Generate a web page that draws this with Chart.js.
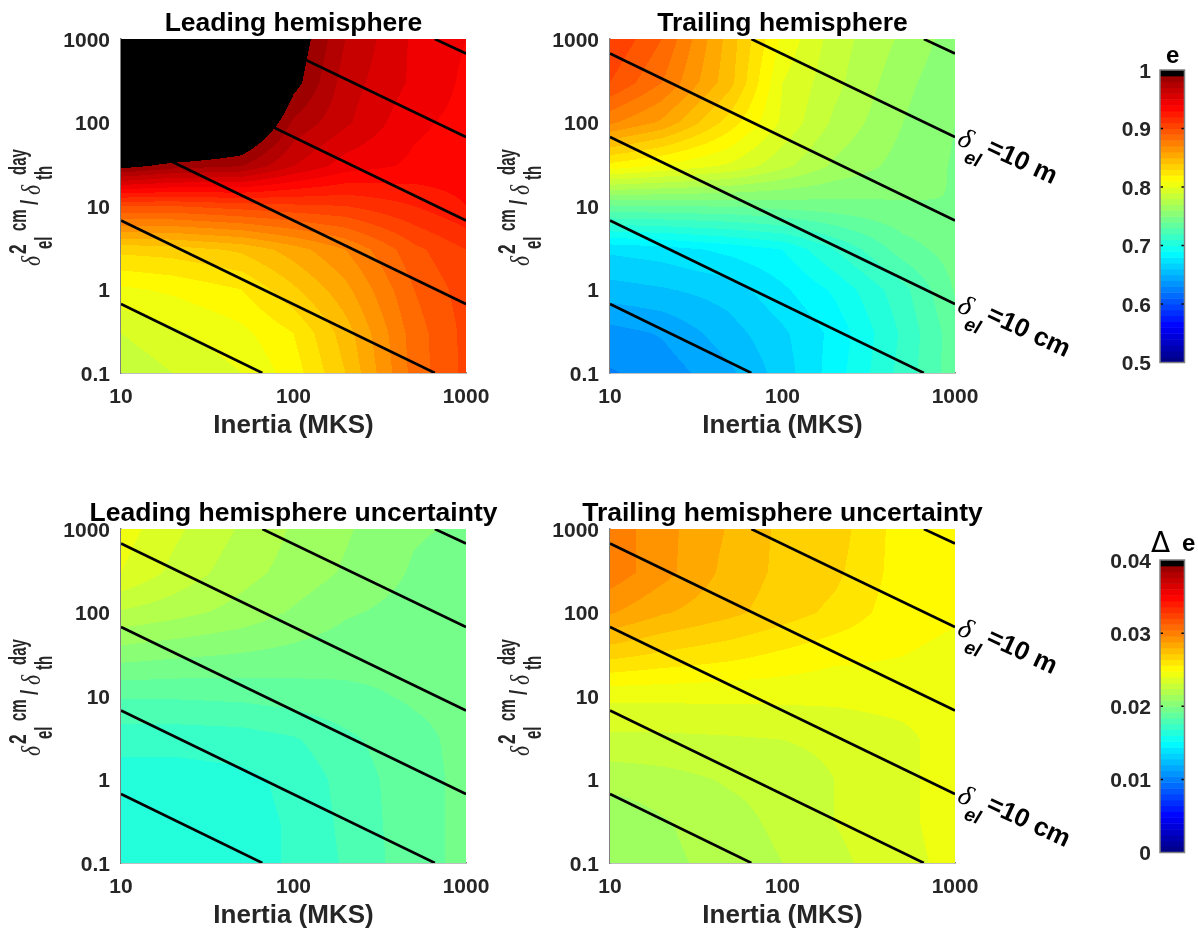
<!DOCTYPE html>
<html>
<head>
<meta charset="utf-8">
<title>Emissivity maps</title>
<script src="https://cdn.jsdelivr.net/npm/chart.js@4"></script>
<style>
  body { margin: 0; background: #fff; }
  canvas { position: absolute; filter: blur(0.4px); }
</style>
</head>
<body>
<script>
// grid the contour maps were read on
const inertia = [10, 20, 50, 100, 200, 500, 1000];
const ratio = [0.1, 0.3, 1, 3, 10, 30, 100, 300, 1000];

// one row per ratio value, bottom row first
const leadE = [
  [.782, .790, .800, .815, .840, .884, .903],
  [.790, .798, .807, .820, .845, .885, .903],
  [.808, .812, .820, .838, .857, .890, .905],
  [.833, .835, .842, .855, .870, .897, .910],
  [.900, .900, .905, .908, .910, .920, .930],
  [.995, .985, .980, .960, .945, .938, .936],
  [1.05, 1.05, 1.02, .978, .962, .942, .937],
  [1.05, 1.05, 1.05, .995, .965, .948, .938],
  [1.05, 1.05, 1.05, 1.00, .970, .948, .940]
];
const trailE = [
  [.629, .634, .648, .665, .685, .714, .736],
  [.636, .641, .656, .668, .683, .712, .736],
  [.656, .659, .665, .678, .692, .717, .741],
  [.672, .675, .683, .690, .710, .735, .745],
  [.739, .740, .741, .744, .746, .749, .750],
  [.816, .808, .798, .783, .768, .756, .749],
  [.872, .858, .825, .798, .778, .760, .750],
  [.900, .880, .843, .800, .783, .763, .752],
  [.910, .890, .845, .808, .785, .768, .755]
];
const leadDe = [
  [.0163, .0164, .0165, .0169, .0177, .0189, .0194],
  [.0163, .0164, .0165, .0169, .0178, .0189, .0194],
  [.0164, .0164, .0166, .0170, .0179, .0189, .0194],
  [.0171, .0171, .0172, .0175, .0182, .0190, .0194],
  [.0185, .0185, .0186, .0188, .0190, .0193, .0194],
  [.0203, .0201, .0199, .0197, .0195, .0194, .0194],
  [.0223, .0219, .0213, .0207, .0201, .0197, .0194],
  [.0240, .0230, .0219, .0213, .0207, .0199, .0195],
  [.0244, .0234, .0223, .0215, .0209, .0201, .0199]
];
const trailDe = [
  [.0212, .0214, .0219, .0224, .0230, .0237, .0243],
  [.0209, .0215, .0221, .0226, .0232, .0238, .0244],
  [.0219, .0221, .0225, .0227, .0232, .0238, .0244],
  [.0230, .0230, .0231, .0232, .0234, .0238, .0244],
  [.0242, .0242, .0242, .0242, .0242, .0243, .0244],
  [.0266, .0262, .0258, .0254, .0250, .0248, .0246],
  [.0289, .0281, .0274, .0268, .0262, .0251, .0249],
  [.0301, .0291, .0277, .0270, .0266, .0252, .0250],
  [.0301, .0291, .0279, .0270, .0268, .0252, .0250]
];

// constant electrical skin depth lines, end points
const isoX = [[10, 66], [10, 660], [10, 1000], [10, 1000], [66, 1000], [660, 1000]];
const isoY = [[0.67, 0.1], [6.7, 0.1], [67, 0.67], [670, 6.7], [1000, 67], [1000, 670]];

const axisTicks = [0.1, 1, 10, 100, 1000];
const xTicks = [10, 100, 1000];
const eTicks = [0.5, 0.6, 0.7, 0.8, 0.9, 1];
const deTicks = [0, 0.01, 0.02, 0.03, 0.04];

const SANS = '"Liberation Sans", Arial, sans-serif';
const SERIF = '"Liberation Serif", "DejaVu Serif", serif';
const TEXT = '#262626';
const BANDS = 50;

function jet(t) {
  const ramp = c => Math.round(255 * Math.max(0, Math.min(1, 1.5 - Math.abs(4 * t - c))));
  return `rgb(${ramp(3)},${ramp(2)},${ramp(1)})`;
}

// filled contour colour for a value, top band is black like the colorbar
function bandColor(v, min, max) {
  const idx = Math.floor((v - min) / (max - min) * BANDS);
  if (idx >= BANDS - 1) return '#000';
  return jet((Math.max(idx, 0) + 0.5) / BANDS);
}

function segment(list, v) {
  let i = 0;
  while (i < list.length - 2 && v > list[i + 1]) i++;
  return [i, (Math.log(v) - Math.log(list[i])) / (Math.log(list[i + 1]) - Math.log(list[i]))];
}

function fieldAt(field, x, y) {
  const [i, fx] = segment(inertia, x);
  const [j, fy] = segment(ratio, y);
  const low = field[j][i] * (1 - fx) + field[j][i + 1] * fx;
  const high = field[j + 1][i] * (1 - fx) + field[j + 1][i + 1] * fx;
  return low * (1 - fy) + high * fy;
}

// squeeze narrows the run of the text, the labels in the original are condensed
function drawText(ctx, str, x, y, font, color, rot, squeeze) {
  ctx.save();
  ctx.translate(x, y);
  ctx.rotate((rot || 0) * Math.PI / 180);
  ctx.scale(squeeze || 1, 1);
  ctx.font = font;
  ctx.fillStyle = color;
  ctx.textAlign = 'left';
  ctx.textBaseline = 'alphabetic';
  ctx.fillText(str, 0, 0);
  ctx.restore();
}

function drawDepthLabel(ctx, y, unit) {
  drawText(ctx, '\u03B4', 467, y - 9, 'italic 28px ' + SERIF, '#000', 25);
  drawText(ctx, 'el', 474, y + 9, 'italic bold 19px ' + SANS, '#000', 20);
  drawText(ctx, '=10 ' + unit, 496, y, 'bold 26px ' + SANS, '#000', 25);
}

const contourPlugin = {
  id: 'contour',
  beforeDatasetsDraw(chart, args, opts) {
    const { ctx, chartArea: a, scales: { x, y } } = chart;
    const right = Math.ceil(a.right);
    ctx.save();
    for (let py = Math.floor(a.top); py < a.bottom; py++) {
      const yv = y.getValueForPixel(py + 0.5);
      let start = Math.floor(a.left), last = null;
      for (let px = start; px <= right; px++) {
        const col = px < right ? bandColor(fieldAt(opts.field, x.getValueForPixel(px + 0.5), yv), opts.min, opts.max) : null;
        if (col !== last) {
          if (last) { ctx.fillStyle = last; ctx.fillRect(start, py, px - start, 1); }
          start = px;
          last = col;
        }
      }
    }
    ctx.restore();
  },
  afterDraw(chart, args, opts) {
    const { ctx, chartArea: a } = chart;
    ctx.save();
    ctx.font = 'bold 26.5px ' + SANS;
    const w = ctx.measureText(opts.title).width;
    ctx.restore();
    drawText(ctx, opts.title, (a.left + a.right) / 2 - w / 2, 31, 'bold 26.5px ' + SANS, '#000');

    // y axis label, pieces stacked by hand because of the sub and superscripts
    const greek = 'italic 27px ' + SERIF, big = 'bold 23px ' + SANS;
    drawText(ctx, '\u03B4', 40, 266, greek, TEXT, -90, 0.8);
    drawText(ctx, '2', 26, 254, big, TEXT, -90, 0.75);
    drawText(ctx, 'el', 52, 249, big, TEXT, -90, 0.65);
    drawText(ctx, 'cm', 26, 231, big, TEXT, -90, 0.65);
    drawText(ctx, '/', 38, 205, big, TEXT, -90, 0.8);
    drawText(ctx, '\u03B4', 40, 195, greek, TEXT, -90, 0.8);
    drawText(ctx, 'day', 26, 175, big, TEXT, -90, 0.65);
    drawText(ctx, 'th', 52, 180, big, TEXT, -90, 0.65);

    if (opts.depthLabels) {
      drawDepthLabel(ctx, 153, 'm');
      drawDepthLabel(ctx, 320, 'cm');
    }
  }
};

function makeCanvas(left, top, width, height) {
  const c = document.createElement('canvas');
  c.width = width;
  c.height = height;
  c.style.left = left + 'px';
  c.style.top = top + 'px';
  document.body.appendChild(c);
  return c;
}

// the plot box is fixed by hand, so tick labels must not ask the layout for room
function fixBox(s, width, height) {
  if (width) s.width = width;
  if (height) s.height = height;
  s.paddingLeft = s.paddingRight = s.paddingTop = s.paddingBottom = 0;
}

function makePanel(left, top, width, title, field, max, depthLabels) {
  const min = max === 1 ? 0.5 : 0;
  new Chart(makeCanvas(left, top, width, 450), {
    type: 'scatter',
    plugins: [contourPlugin],
    data: {
      datasets: isoX.map((xs, i) => ({
        data: xs.map((x, k) => ({ x, y: isoY[i][k] })),
        showLine: true,
        borderColor: '#000',
        borderWidth: 2.6,
        pointRadius: 0
      }))
    },
    options: {
      responsive: false,
      animation: false,
      events: [],
      layout: { padding: { top: 39, right: width - 466 } },
      plugins: {
        legend: { display: false },
        tooltip: { enabled: false },
        contour: { field, min, max, title, depthLabels }
      },
      scales: {
        x: {
          type: 'logarithmic',
          min: 10,
          max: 1000,
          afterBuildTicks: s => { s.ticks = xTicks.map(value => ({ value })); },
          afterFit: s => fixBox(s, 0, 77),
          grid: { display: false, drawTicks: false },
          border: { color: '#808080', width: 1.5 },
          ticks: { autoSkip: false, maxRotation: 0, padding: 12, color: TEXT, font: { family: SANS, size: 21, weight: 'bold' }, callback: v => String(v) },
          title: { display: true, text: 'Inertia (MKS)', color: TEXT, padding: { top: 0, bottom: 9 }, font: { family: SANS, size: 26, weight: 'bold' } }
        },
        y: {
          type: 'logarithmic',
          min: 0.1,
          max: 1000,
          afterBuildTicks: s => { s.ticks = axisTicks.map(value => ({ value })); },
          afterFit: s => fixBox(s, 121, 0),
          grid: { display: false, drawTicks: false },
          border: { color: '#808080', width: 1.5 },
          ticks: { autoSkip: false, padding: 11, labelOffset: 2, color: TEXT, font: { family: SANS, size: 21, weight: 'bold' }, callback: v => String(v) }
        }
      }
    }
  });
}

const colorbarPlugin = {
  id: 'colorbar',
  beforeDatasetsDraw(chart, args, opts) {
    const { ctx, chartArea: a, scales: { y } } = chart;
    const step = (opts.max - opts.min) / BANDS;
    for (let k = 0; k < BANDS; k++) {
      const v = opts.min + k * step;
      const top = y.getPixelForValue(v + step), bottom = y.getPixelForValue(v);
      ctx.fillStyle = bandColor(v + step / 2, opts.min, opts.max);
      ctx.fillRect(a.left, top, a.right - a.left, bottom - top + 0.5);
    }
  },
  afterDatasetsDraw(chart, args, opts) {
    const { ctx, chartArea: a, scales: { y } } = chart;
    ctx.strokeStyle = '#000';
    ctx.lineWidth = 1.5;
    opts.ticks.slice(1, -1).forEach(v => {
      const py = y.getPixelForValue(v);
      ctx.beginPath();
      ctx.moveTo(a.left, py); ctx.lineTo(a.left + 3, py);
      ctx.moveTo(a.right - 3, py); ctx.lineTo(a.right, py);
      ctx.stroke();
    });
    ctx.strokeStyle = '#808080';
    ctx.strokeRect(a.left, a.top, a.right - a.left, a.bottom - a.top);
    if (opts.delta) {
      drawText(ctx, '\u0394', 53, 62, '28px "DejaVu Sans", sans-serif', '#000');
      drawText(ctx, 'e', 84, 61, 'bold 24px ' + SANS, '#000');
    } else {
      drawText(ctx, 'e', 68, 63, 'bold 24px ' + SANS, '#000');
    }
  }
};

function makeColorbar(top, min, max, tickList, delta) {
  new Chart(makeCanvas(1098, top, 100, 400), {
    type: 'scatter',
    plugins: [colorbarPlugin],
    data: { datasets: [{ data: [] }] },
    options: {
      responsive: false,
      animation: false,
      events: [],
      layout: { padding: { top: 70, right: 13.5, bottom: 37.5 } },
      plugins: {
        legend: { display: false },
        tooltip: { enabled: false },
        colorbar: { min, max, ticks: tickList, delta }
      },
      scales: {
        x: { display: false },
        y: {
          min,
          max,
          afterBuildTicks: s => { s.ticks = tickList.map(value => ({ value })); },
          afterFit: s => fixBox(s, 62, 0),
          grid: { display: false, drawTicks: false },
          border: { display: false },
          ticks: { autoSkip: false, padding: 9, labelOffset: 2, color: TEXT, font: { family: SANS, size: 21, weight: 'bold' }, callback: v => String(v) }
        }
      }
    }
  });
}

makePanel(0, 0, 500, 'Leading hemisphere', leadE, 1, false);
makePanel(489, 0, 600, 'Trailing hemisphere', trailE, 1, true);
makePanel(0, 490, 500, 'Leading hemisphere uncertainty', leadDe, 0.04, false);
makePanel(489, 490, 600, 'Trailing hemisphere uncertainty', trailDe, 0.04, true);
makeColorbar(0, 0.5, 1, eTicks, false);
makeColorbar(490, 0, 0.04, deTicks, true);
</script>
</body>
</html>
